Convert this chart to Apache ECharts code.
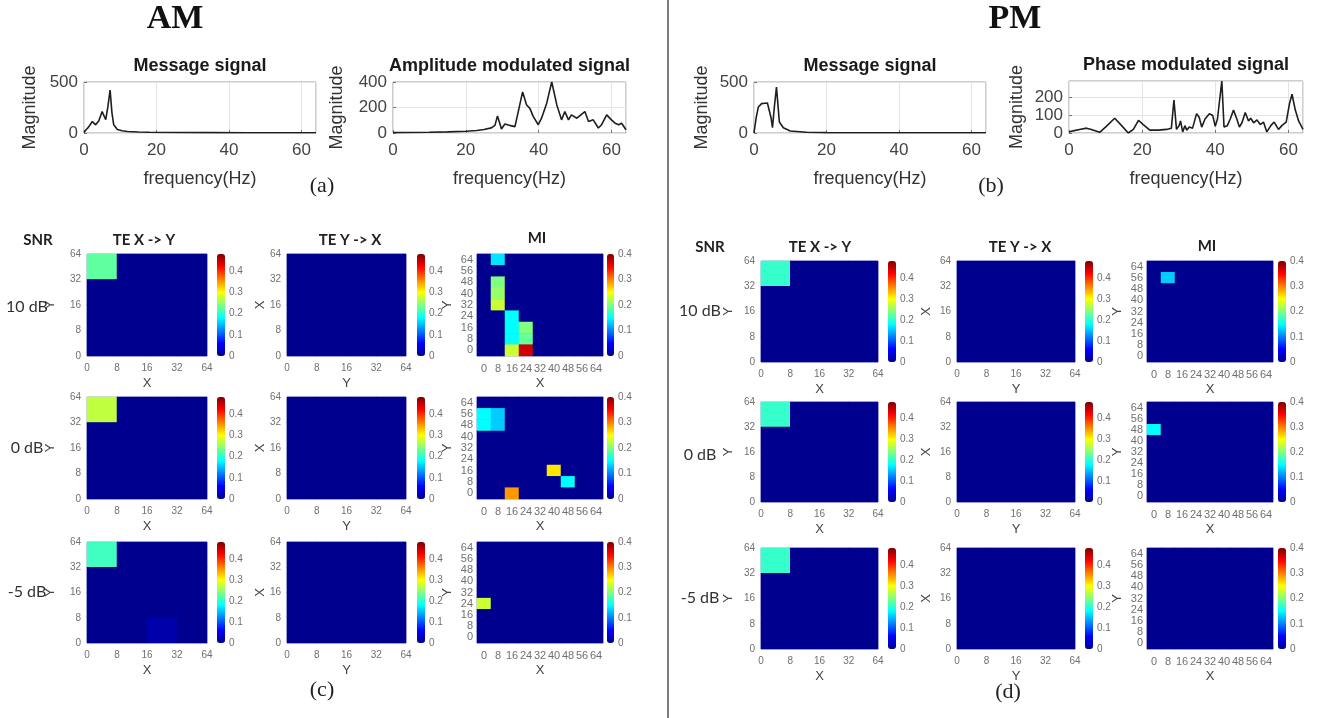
<!DOCTYPE html>
<html>
<head>
<meta charset="utf-8">
<script src="https://cdn.jsdelivr.net/npm/echarts@6/dist/echarts.min.js"></script>
<style>
  html, body { margin: 0; padding: 0; background: #fff; }
  #main { width: 1333px; height: 718px; }
</style>
</head>
<body>
<div id="main"></div>
<script>
// ---- spectra (frequency in Hz, magnitude) ----
const amMsgFreq = [0, 0.5, 1.2, 2.3, 3.2, 4.1, 5.0, 6.0, 6.6, 7.2, 7.7, 8.2, 9.2, 10.5, 12, 15, 18, 25, 35, 45, 55, 64];
const amMsgMag = [5, 30, 55, 113, 80, 120, 210, 130, 260, 420, 200, 80, 35, 22, 15, 10, 8, 5, 4, 3, 3, 2];

const amModFreq = [0, 5, 10, 15, 20, 23, 25, 27, 28, 28.7, 29.8, 30.7, 32, 33.5, 35.6, 36.7, 37.6, 38.5, 39.9, 40.8,
  42.2, 43.6, 45, 46.3, 47.2, 48.2, 49, 50.5, 51.6, 52.7, 53.7, 55, 56.4, 57.3, 58.7, 60, 61, 62, 62.8, 64];
const amModMag = [3, 4, 6, 9, 14, 20, 27, 40, 60, 134, 31, 70, 60, 50, 322, 220, 193, 130, 65, 116,
  232, 400, 220, 103, 168, 103, 142, 116, 142, 168, 90, 103, 39, 65, 142, 103, 77, 65, 77, 26];

const pmMsgFreq = [0, 0.6, 1.2, 2.1, 3.0, 3.7, 4.2, 4.7, 5.1, 5.6, 6.2, 7.0, 8.1, 10, 14.5, 20, 30, 40, 50, 64];
const pmMsgMag = [0, 150, 255, 288, 292, 294, 288, 150, 52, 250, 450, 108, 52, 20, 7, 4, 3, 3, 2, 2];

const pmPhFreq = [0, 1.1, 2.9, 4.8, 6.1, 8.4, 10.2, 12.5, 14.4, 16.2, 17.6, 19, 20.3, 22.1, 24.4, 26.7, 28, 28.7, 29.4, 30.1,
  30.5, 31.1, 31.7, 32.2, 32.9, 33.8, 34.9, 35.6, 36.3, 37.2, 37.7, 38.4, 39.3, 40, 40.6, 41.8, 42.4, 43.3, 44.1, 45,
  45.9, 46.6, 47.3, 48.2, 49.1, 49.7, 50.5, 51.4, 52.3, 53.2, 54.1, 55.2, 56.1, 57.3, 58.2, 59.4, 60.3, 61, 61.9, 62.8, 64];
const pmPhMag = [6, 12, 20, 27, 20, 4, 37, 82, 41, 0, 20, 71, 47, 16, 16, 20, 27, 184, 20, 41,
  67, 6, 41, 16, 33, 27, 108, 88, 33, 78, 67, 108, 98, 37, 78, 290, 33, 41, 78, 128,
  78, 33, 57, 114, 67, 82, 57, 73, 47, 61, 6, 41, 61, 20, 41, 61, 163, 216, 128, 67, 20];

// ---- heatmap axes ----
const teTicks = [0, 8, 16, 32, 64];
const teBins = ['0-8', '8-16', '16-32', '32-64'];
const miTicks = ['0', '8', '16', '24', '32', '40', '48', '56', '64'];
const snrLabels = ['10 dB', '0 dB', '-5 dB'];

// TE matrices, rows written top (32-64) to bottom (0-8), cols = 0-8, 8-16, 16-32, 32-64
const amTeXY10 = [[0.225, 0, 0, 0], [0, 0, 0, 0], [0, 0, 0, 0], [0, 0, 0, 0]];
const amTeXY0 = [[0.27, 0, 0, 0], [0, 0, 0, 0], [0, 0, 0, 0], [0, 0, 0, 0]];
const amTeXYm5 = [[0.21, 0, 0, 0], [0, 0, 0, 0], [0, 0, 0, 0], [0, 0, 0.015, 0]];
const amTeYX10 = [[0, 0, 0, 0], [0, 0, 0, 0], [0, 0, 0, 0], [0, 0, 0, 0]];
const amTeYX0 = [[0, 0, 0, 0], [0, 0, 0, 0], [0, 0, 0, 0], [0, 0, 0, 0]];
const amTeYXm5 = [[0, 0, 0, 0], [0, 0, 0, 0], [0, 0, 0, 0], [0, 0, 0, 0]];
const pmTeXY10 = [[0.205, 0, 0, 0], [0, 0, 0, 0], [0, 0, 0, 0], [0, 0, 0, 0]];
const pmTeXY0 = [[0.205, 0, 0, 0], [0, 0, 0, 0], [0, 0, 0, 0], [0, 0, 0, 0]];
const pmTeXYm5 = [[0.205, 0, 0, 0], [0, 0, 0, 0], [0, 0, 0, 0], [0, 0, 0, 0]];
const pmTeYX10 = [[0, 0, 0, 0], [0, 0, 0, 0], [0, 0, 0, 0], [0, 0, 0, 0]];
const pmTeYX0 = [[0, 0, 0, 0], [0, 0, 0, 0], [0, 0, 0, 0], [0, 0, 0, 0]];
const pmTeYXm5 = [[0, 0, 0, 0], [0, 0, 0, 0], [0, 0, 0, 0], [0, 0, 0, 0]];

// MI matrices, rows written top (Y=64) to bottom (Y=0), cols X=0..64
const amMi10 = [
  [0, 0.14, 0, 0, 0, 0, 0, 0, 0],
  [0, 0, 0, 0, 0, 0, 0, 0, 0],
  [0, 0.20, 0, 0, 0, 0, 0, 0, 0],
  [0, 0.21, 0, 0, 0, 0, 0, 0, 0],
  [0, 0.23, 0, 0, 0, 0, 0, 0, 0],
  [0, 0, 0.15, 0, 0, 0, 0, 0, 0],
  [0, 0, 0.15, 0.20, 0, 0, 0, 0, 0],
  [0, 0, 0.15, 0.19, 0, 0, 0, 0, 0],
  [0, 0, 0.23, 0.37, 0, 0, 0, 0, 0]
];
const amMi0 = [
  [0, 0, 0, 0, 0, 0, 0, 0, 0],
  [0.15, 0.13, 0, 0, 0, 0, 0, 0, 0],
  [0.15, 0.13, 0, 0, 0, 0, 0, 0, 0],
  [0, 0, 0, 0, 0, 0, 0, 0, 0],
  [0, 0, 0, 0, 0, 0, 0, 0, 0],
  [0, 0, 0, 0, 0, 0, 0, 0, 0],
  [0, 0, 0, 0, 0, 0.26, 0, 0, 0],
  [0, 0, 0, 0, 0, 0, 0.15, 0, 0],
  [0, 0, 0.29, 0, 0, 0, 0, 0, 0]
];
const amMim5 = [
  [0, 0, 0, 0, 0, 0, 0, 0, 0],
  [0, 0, 0, 0, 0, 0, 0, 0, 0],
  [0, 0, 0, 0, 0, 0, 0, 0, 0],
  [0, 0, 0, 0, 0, 0, 0, 0, 0],
  [0, 0, 0, 0, 0, 0, 0, 0, 0],
  [0.23, 0, 0, 0, 0, 0, 0, 0, 0],
  [0, 0, 0, 0, 0, 0, 0, 0, 0],
  [0, 0, 0, 0, 0, 0, 0, 0, 0],
  [0, 0, 0, 0, 0, 0, 0, 0, 0]
];
const pmMi10 = [
  [0, 0, 0, 0, 0, 0, 0, 0, 0],
  [0, 0.13, 0, 0, 0, 0, 0, 0, 0],
  [0, 0, 0, 0, 0, 0, 0, 0, 0],
  [0, 0, 0, 0, 0, 0, 0, 0, 0],
  [0, 0, 0, 0, 0, 0, 0, 0, 0],
  [0, 0, 0, 0, 0, 0, 0, 0, 0],
  [0, 0, 0, 0, 0, 0, 0, 0, 0],
  [0, 0, 0, 0, 0, 0, 0, 0, 0],
  [0, 0, 0, 0, 0, 0, 0, 0, 0]
];
const pmMi0 = [
  [0, 0, 0, 0, 0, 0, 0, 0, 0],
  [0, 0, 0, 0, 0, 0, 0, 0, 0],
  [0.15, 0, 0, 0, 0, 0, 0, 0, 0],
  [0, 0, 0, 0, 0, 0, 0, 0, 0],
  [0, 0, 0, 0, 0, 0, 0, 0, 0],
  [0, 0, 0, 0, 0, 0, 0, 0, 0],
  [0, 0, 0, 0, 0, 0, 0, 0, 0],
  [0, 0, 0, 0, 0, 0, 0, 0, 0],
  [0, 0, 0, 0, 0, 0, 0, 0, 0]
];
const pmMim5 = [
  [0, 0, 0, 0, 0, 0, 0, 0, 0],
  [0, 0, 0, 0, 0, 0, 0, 0, 0],
  [0, 0, 0, 0, 0, 0, 0, 0, 0],
  [0, 0, 0, 0, 0, 0, 0, 0, 0],
  [0, 0, 0, 0, 0, 0, 0, 0, 0],
  [0, 0, 0, 0, 0, 0, 0, 0, 0],
  [0, 0, 0, 0, 0, 0, 0, 0, 0],
  [0, 0, 0, 0, 0, 0, 0, 0, 0],
  [0, 0, 0, 0, 0, 0, 0, 0, 0]
];

// jet colormap
const jet = ['#00008f', '#0000ff', '#0080ff', '#00ffff', '#80ff80', '#ffff00', '#ff8000', '#ff0000', '#800000'];
const TE_MAX = 0.48;
const MI_MAX = 0.4;

const SANS = 'Liberation Sans';
const SERIF = 'Liberation Serif';
const CAL = 'Lato';

const option = {
  animation: false,
  backgroundColor: '#fff',
  title: [],
  grid: [],
  xAxis: [],
  yAxis: [],
  visualMap: [],
  series: [],
  graphic: [{
    type: 'line',
    shape: { x1: 668, y1: 0, x2: 668, y2: 718 },
    style: { stroke: '#555', lineWidth: 1.5 }
  }]
};

function addText(text, x, y, size, family, weight, color) {
  option.title.push({
    text: text,
    left: x,
    top: y,
    padding: 0,
    textAlign: 'center',
    textVerticalAlign: 'middle',
    textStyle: { fontSize: size, fontFamily: family, fontWeight: weight || 'normal', color: color || '#222' }
  });
}

// spectrum panel
function addSpectrum(box, freq, mag, yMax, yStep, title, nameGap) {
  const g = option.grid.length;
  option.grid.push({
    left: box.left, top: box.top, width: box.width, height: box.height,
    show: true, borderColor: '#9c9c9c', borderWidth: 1, backgroundColor: '#fff',
    outerBoundsMode: 'none', containLabel: false
  });
  option.xAxis.push({
    type: 'value', gridIndex: g, min: 0, max: 64, interval: 20,
    axisLine: { show: false },
    axisTick: { show: true, inside: true, length: 3, lineStyle: { color: '#777' } },
    splitLine: { show: true, lineStyle: { color: '#e4e4e4', width: 1 } },
    axisLabel: { showMaxLabel: false, fontSize: 17, fontFamily: SANS, color: '#444', margin: 9 },
    name: 'frequency(Hz)', nameLocation: 'middle', nameGap: 37, nameMoveOverlap: false,
    nameTextStyle: { fontSize: 18, fontFamily: SANS, color: '#333' }
  });
  option.yAxis.push({
    type: 'value', gridIndex: g, min: 0, max: yMax, interval: yStep,
    axisLine: { show: false },
    axisTick: { show: true, inside: true, length: 3, lineStyle: { color: '#777' } },
    splitLine: { show: true, lineStyle: { color: '#e4e4e4', width: 1 } },
    axisLabel: { showMaxLabel: yMax % yStep === 0, fontSize: 17, fontFamily: SANS, color: '#444', margin: 6 },
    name: 'Magnitude', nameLocation: 'middle', nameGap: nameGap, nameMoveOverlap: false,
    nameTextStyle: { fontSize: 18, fontFamily: SANS, color: '#333' }
  });
  option.series.push({
    type: 'line', xAxisIndex: g, yAxisIndex: option.yAxis.length - 1,
    data: freq.map((f, i) => [f, mag[i]]),
    showSymbol: false, silent: true,
    lineStyle: { color: '#1e1e1e', width: 1.6 }
  });
  addText(title, box.left + box.width / 2, box.top - 16, 18, SANS, 'bold', '#1a1a1a');
}

const tickLabel = { fontSize: 10, fontFamily: SANS, color: '#707070' };
const axisNameStyle = { fontSize: 13, fontFamily: SANS, color: '#444' };

function addColorbar(g, col, row, cbMax) {
  const s = option.series.length - 1;
  option.yAxis.push({
    type: 'value', gridIndex: g, position: 'right', offset: col.cb + col.cbw - (col.left + col.width),
    min: 0, max: cbMax, interval: 0.1,
    axisLine: { show: false }, axisTick: { show: false }, splitLine: { show: false },
    axisLabel: Object.assign({ margin: 4, showMaxLabel: cbMax === 0.4 }, tickLabel)
  });
  option.visualMap.push({
    type: 'continuous', seriesIndex: s, dimension: 2, min: 0, max: cbMax,
    inRange: { color: jet }, orient: 'vertical',
    left: col.cb, top: row.top, itemWidth: col.cbw, itemHeight: row.height,
    padding: 0, calculable: false, hoverLink: false, text: null
  });
}

// TE panel: 4x4 bins with tick labels on bin edges
function addTE(col, row, mat, nameX, nameY, yGap) {
  const g = option.grid.length;
  option.grid.push({
    left: col.left, top: row.top, width: col.width, height: row.height,
    show: true, borderColor: '#a4a4e6', borderWidth: 1, backgroundColor: '#00008f',
    outerBoundsMode: 'none', containLabel: false
  });
  const xi = option.xAxis.length;
  option.xAxis.push({ type: 'category', gridIndex: g, data: teBins, show: false });
  option.xAxis.push({
    type: 'value', gridIndex: g, position: 'bottom', min: 0, max: 4, interval: 1,
    axisLine: { show: false }, axisTick: { show: false }, splitLine: { show: false },
    axisLabel: Object.assign({ margin: 7, formatter: v => String(teTicks[Math.round(v)]) }, tickLabel),
    name: nameX, nameLocation: 'middle', nameGap: 21, nameMoveOverlap: false, nameTextStyle: axisNameStyle
  });
  const yi = option.yAxis.length;
  option.yAxis.push({ type: 'category', gridIndex: g, data: teBins, show: false });
  option.yAxis.push({
    type: 'value', gridIndex: g, position: 'left', min: 0, max: 4, interval: 1,
    axisLine: { show: false }, axisTick: { show: false }, splitLine: { show: false },
    axisLabel: Object.assign({ margin: 6, formatter: v => String(teTicks[Math.round(v)]) }, tickLabel),
    name: nameY, nameLocation: 'middle', nameGap: yGap, nameMoveOverlap: false, nameTextStyle: axisNameStyle
  });
  const data = [];
  mat.forEach((vals, r) => vals.forEach((v, c) => data.push([c, mat.length - 1 - r, v])));
  option.series.push({
    type: 'heatmap', xAxisIndex: xi, yAxisIndex: yi, data: data, silent: true,
    itemStyle: { borderWidth: 0 }, emphasis: { disabled: true }
  });
  addColorbar(g, col, row, TE_MAX);
}

// MI panel: 9x9 cells centred on the tick values
function addMI(col, row, mat) {
  const g = option.grid.length;
  option.grid.push({
    left: col.left, top: row.top, width: col.width, height: row.height,
    show: true, borderColor: '#a4a4e6', borderWidth: 1, backgroundColor: '#00008f',
    outerBoundsMode: 'none', containLabel: false
  });
  const xi = option.xAxis.length;
  option.xAxis.push({
    type: 'category', gridIndex: g, data: miTicks,
    axisLine: { show: false }, axisTick: { show: false }, splitLine: { show: false },
    axisLabel: Object.assign({ margin: 7, interval: 0 }, tickLabel, { fontSize: 11 }),
    name: 'X', nameLocation: 'middle', nameGap: 21, nameMoveOverlap: false, nameTextStyle: axisNameStyle
  });
  const yi = option.yAxis.length;
  option.yAxis.push({
    type: 'category', gridIndex: g, data: miTicks,
    axisLine: { show: false }, axisTick: { show: false }, splitLine: { show: false },
    axisLabel: Object.assign({ margin: 4, interval: 0 }, tickLabel, { fontSize: 11, lineHeight: 11 }),
    name: 'Y', nameLocation: 'middle', nameGap: 23, nameMoveOverlap: false, nameTextStyle: axisNameStyle
  });
  const data = [];
  mat.forEach((vals, r) => vals.forEach((v, c) => data.push([c, mat.length - 1 - r, v])));
  option.series.push({
    type: 'heatmap', xAxisIndex: xi, yAxisIndex: yi, data: data, silent: true,
    itemStyle: { borderWidth: 0 }, emphasis: { disabled: true }
  });
  addColorbar(g, col, row, MI_MAX);
}

// ---- top spectra ----
addSpectrum({ left: 84, top: 82, width: 232, height: 51 }, amMsgFreq, amMsgMag, 500, 500, 'Message signal', 45);
addSpectrum({ left: 393, top: 82, width: 233, height: 51 }, amModFreq, amModMag, 400, 200, 'Amplitude modulated signal', 47);
addSpectrum({ left: 754, top: 82, width: 232, height: 51 }, pmMsgFreq, pmMsgMag, 500, 500, 'Message signal', 43);
addSpectrum({ left: 1069, top: 81, width: 234, height: 52 }, pmPhFreq, pmPhMag, 290, 100, 'Phase modulated signal', 43);

// ---- heatmap grids ----
const amCols = [
  { left: 87, width: 120, cb: 217, cbw: 8 },
  { left: 287, width: 119, cb: 417, cbw: 8 },
  { left: 477, width: 126, cb: 607, cbw: 7 }
];
const amRows = [{ top: 254, height: 102 }, { top: 397, height: 102 }, { top: 542, height: 101 }];
const pmCols = [
  { left: 761, width: 117, cb: 888, cbw: 8 },
  { left: 957, width: 118, cb: 1085, cbw: 8 },
  { left: 1147, width: 126, cb: 1278, cbw: 8 }
];
const pmRows = [{ top: 261, height: 101 }, { top: 402, height: 100 }, { top: 548, height: 101 }];

const amTeXY = [amTeXY10, amTeXY0, amTeXYm5];
const amTeYX = [amTeYX10, amTeYX0, amTeYXm5];
const amMi = [amMi10, amMi0, amMim5];
const pmTeXY = [pmTeXY10, pmTeXY0, pmTeXYm5];
const pmTeYX = [pmTeYX10, pmTeYX0, pmTeYXm5];
const pmMi = [pmMi10, pmMi0, pmMim5];

for (let r = 0; r < 3; r++) {
  addTE(amCols[0], amRows[r], amTeXY[r], 'X', 'Y', 30);
  addTE(amCols[1], amRows[r], amTeYX[r], 'Y', 'X', 20);
  addMI(amCols[2], amRows[r], amMi[r]);
  addTE(pmCols[0], pmRows[r], pmTeXY[r], 'X', 'Y', 26);
  addTE(pmCols[1], pmRows[r], pmTeYX[r], 'Y', 'X', 24);
  addMI(pmCols[2], pmRows[r], pmMi[r]);
}

// ---- text ----
addText('AM', 175, 19, 34, SERIF, 'bold', '#111');
addText('PM', 1015, 19, 34, SERIF, 'bold', '#111');
addText('(a)', 322, 186, 22, SERIF, 'normal', '#222');
addText('(b)', 991, 186, 22, SERIF, 'normal', '#222');
addText('(c)', 322, 690, 22, SERIF, 'normal', '#222');
addText('(d)', 1008, 692, 22, SERIF, 'normal', '#222');

addText('SNR', 38, 240, 15, CAL, 'bold', '#222');
addText('TE X -> Y', 144, 240, 15, CAL, 'bold', '#222');
addText('TE Y -> X', 350, 240, 15, CAL, 'bold', '#222');
addText('MI', 537, 238, 15, CAL, 'bold', '#222');
addText('SNR', 710, 247, 15, CAL, 'bold', '#222');
addText('TE X -> Y', 820, 247, 15, CAL, 'bold', '#222');
addText('TE Y -> X', 1020, 247, 15, CAL, 'bold', '#222');
addText('MI', 1207, 246, 15, CAL, 'bold', '#222');

const amSnrY = [307, 448, 592];
const pmSnrY = [311, 455, 598];
snrLabels.forEach((t, i) => {
  addText(t, 27, amSnrY[i], 16, CAL, 'normal', '#333');
  addText(t, 700, pmSnrY[i], 16, CAL, 'normal', '#333');
});

const chart = echarts.init(document.getElementById('main'), null, { renderer: 'canvas' });
chart.setOption(option);
</script>
</body>
</html>
